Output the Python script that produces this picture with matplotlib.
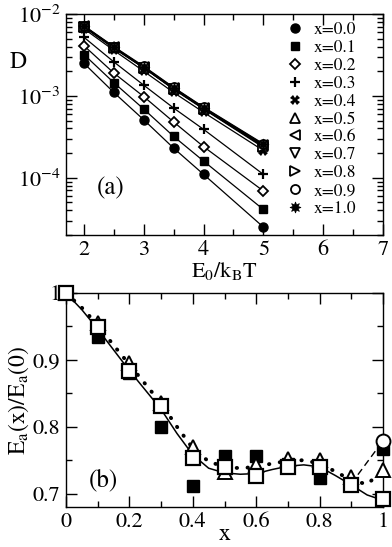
import numpy as np
import matplotlib
matplotlib.use("Agg")
import matplotlib.pyplot as plt
from matplotlib.ticker import MultipleLocator, LogLocator, NullFormatter, FixedLocator

plt.rcParams['font.family'] = ['STIXGeneral', 'DejaVu Serif']
plt.rcParams['mathtext.fontset'] = 'stix'

# panel (a): diffusion coefficient vs E0/kBT
energy = [2, 2.5, 3, 3.5, 4, 5]
comp_labels = ["x=0.0", "x=0.1", "x=0.2", "x=0.3", "x=0.4", "x=0.5",
               "x=0.6", "x=0.7", "x=0.8", "x=0.9", "x=1.0"]
D_x00 = [2.5e-3, 1.1e-3, 5.1e-4, 2.3e-4, 1.1e-4, 2.5e-5]
D_x01 = [3.2e-3, 1.45e-3, 6.9e-4, 3.2e-4, 1.6e-4, 4.1e-5]
D_x02 = [4.1e-3, 1.9e-3, 9.8e-4, 4.8e-4, 2.4e-4, 6.9e-5]
D_x03 = [5.2e-3, 2.6e-3, 1.35e-3, 7.1e-4, 3.9e-4, 1.1e-4]
D_x04 = [6.6e-3, 3.6e-3, 2.0e-3, 1.1e-3, 6.3e-4, 2.15e-4]
D_x05 = [7.0e-3, 3.9e-3, 2.2e-3, 1.22e-3, 7.0e-4, 2.45e-4]
D_x06 = [7.1e-3, 3.9e-3, 2.25e-3, 1.24e-3, 7.1e-4, 2.5e-4]
D_x07 = [6.9e-3, 3.8e-3, 2.2e-3, 1.2e-3, 6.9e-4, 2.35e-4]
D_x08 = [7.0e-3, 3.85e-3, 2.2e-3, 1.22e-3, 7.0e-4, 2.4e-4]
D_x09 = [7.2e-3, 4.0e-3, 2.3e-3, 1.27e-3, 7.3e-4, 2.6e-4]
D_x10 = [7.1e-3, 3.95e-3, 2.25e-3, 1.25e-3, 7.2e-4, 2.55e-4]
D_all = [D_x00, D_x01, D_x02, D_x03, D_x04, D_x05, D_x06, D_x07, D_x08, D_x09, D_x10]

# panel (b): activation energy ratio vs composition
xb = [0.0, 0.1, 0.2, 0.3, 0.4, 0.5, 0.6, 0.7, 0.8, 0.9, 1.0]
Ea_filled_sq = [1.0, 0.934, 0.88, 0.80, 0.711, 0.756, 0.756, 0.745, 0.723, 0.715, 0.767]
Ea_triangle = [1.0, 0.955, 0.895, 0.835, 0.769, 0.733, 0.743, 0.752, 0.751, 0.725, 0.736]
Ea_open_sq = [1.0, 0.949, 0.884, 0.831, 0.754, 0.740, 0.727, 0.740, 0.740, 0.713, 0.692]
Ea_circle = [0.779]
x_circle = [1.0]

# fitted curves
fit_x = [0, 0.05, 0.1, 0.15, 0.2, 0.25, 0.3, 0.35, 0.4, 0.45, 0.5, 0.55,
         0.6, 0.65, 0.7, 0.75, 0.8, 0.85, 0.9, 0.95, 1.0]
fit_solid = [1.0, 0.975, 0.946, 0.915, 0.884, 0.855, 0.826, 0.79, 0.758, 0.738,
             0.731, 0.729, 0.730, 0.736, 0.741, 0.743, 0.740, 0.727, 0.713, 0.698, 0.69]
fit_dotted = [1.0, 0.978, 0.952, 0.922, 0.893, 0.864, 0.835, 0.80, 0.768, 0.748,
              0.740, 0.738, 0.740, 0.745, 0.749, 0.750, 0.745, 0.733, 0.72, 0.714, 0.735]
dash_x = [0.9, 1.0]
fit_dashed = [0.715, 0.779]

fig = plt.figure(figsize=(3.92, 5.47), dpi=100)
ax1 = fig.add_axes([66/392, 1-235/547, (383-66)/392, (235-14)/547])
ax2 = fig.add_axes([66/392, 1-507/547, (383-66)/392, (507-293)/547])

styles = [
    dict(marker='o', mfc='k', ms=6.5),
    dict(marker='s', mfc='k', ms=6),
    dict(marker='D', mfc='w', ms=5, mew=1.3),
    dict(marker='+', mfc='k', ms=7.5, mew=1.6),
    dict(marker='X', mfc='k', ms=6.5, mew=0),
    dict(marker='^', mfc='w', ms=6.5, mew=1.3),
    dict(marker='<', mfc='w', ms=6.5, mew=1.3),
    dict(marker='v', mfc='w', ms=6.5, mew=1.3),
    dict(marker='>', mfc='w', ms=6.5, mew=1.3),
    dict(marker='o', mfc='w', ms=6.5, mew=1.3),
    dict(marker=(8, 1, 0), mfc='k', ms=8, mew=0.5),
]

for D, lab, st in zip(D_all, comp_labels, styles):
    ax1.plot(energy, D, color='k', lw=0.9, zorder=2)
    ax1.plot(energy, D, ls='none', mec='k', label=lab, zorder=3, **st)

ax1.set_yscale('log')
ax1.set_xlim(1.7, 7)
ax1.set_ylim(2e-5, 1e-2)
ax1.xaxis.set_major_locator(MultipleLocator(1))
ax1.xaxis.set_minor_locator(MultipleLocator(0.5))
ax1.yaxis.set_major_locator(LogLocator(base=10, numticks=10))
ax1.yaxis.set_minor_locator(LogLocator(base=10, subs=np.arange(2, 10), numticks=10))
ax1.yaxis.set_minor_formatter(NullFormatter())
ax1.set_xlabel(r'E$_0$/k$_\mathrm{B}$T', fontsize=16, labelpad=0)
fig.text(0.047, 1-62/547, 'D', fontsize=17, ha='center', va='center')
ax1.text(0.14, 0.21, '(a)', transform=ax1.transAxes, fontsize=18,
         ha='center', va='center')

leg = ax1.legend(loc='upper left', bbox_to_anchor=((286-66)/317, 1-(22-14)/221),
                 frameon=False, fontsize=12.5, handlelength=1.0, handletextpad=0.6,
                 labelspacing=0.1, borderpad=0, borderaxespad=0)

# panel (b)
ax2.plot(fit_x, fit_solid, color='k', lw=1.1, zorder=2)
ax2.plot(fit_x, fit_dotted, color='k', lw=2.8, ls=(0, (0.1, 2.7)),
         dash_capstyle='round', zorder=2)
ax2.plot(dash_x, fit_dashed, color='k', lw=1.0, ls=(0, (5, 3)), zorder=2)
ax2.plot(xb, Ea_filled_sq, ls='none', marker='s', mfc='k', mec='k', ms=8,
         zorder=3, clip_on=False)
ax2.plot(xb, Ea_triangle, ls='none', marker='^', mfc='w', mec='k', ms=9.5,
         mew=1.4, zorder=4, clip_on=False)
ax2.plot(x_circle, Ea_circle, ls='none', marker='o', mfc='w', mec='k', ms=10,
         mew=1.4, zorder=4, clip_on=False)
ax2.plot(xb, Ea_open_sq, ls='none', marker='s', mfc='w', mec='k', ms=9.5,
         mew=1.6, zorder=5, clip_on=False)

ax2.set_xlim(0, 1)
ax2.set_ylim(0.68, 1.0)
ax2.xaxis.set_major_locator(FixedLocator([0, 0.2, 0.4, 0.6, 0.8, 1.0]))
ax2.xaxis.set_minor_locator(MultipleLocator(0.1))
ax2.yaxis.set_major_locator(FixedLocator([0.7, 0.8, 0.9, 1.0]))
ax2.yaxis.set_minor_locator(MultipleLocator(0.05))
ax2.set_xticklabels(['0', '0.2', '0.4', '0.6', '0.8', '1'])
ax2.set_yticklabels(['0.7', '0.8', '0.9', '1'])
ax2.set_xlabel('x', fontsize=17, labelpad=-6)
ax2.set_ylabel(r'E$_\mathrm{a}$(x)/E$_\mathrm{a}$(0)', fontsize=17, labelpad=1)
ax2.text(0.117, 0.126, '(b)', transform=ax2.transAxes, fontsize=18,
         ha='center', va='center')

for ax in (ax1, ax2):
    ax.tick_params(which='both', direction='in', top=True, right=True,
                   labelsize=16, width=1.0)
    ax.tick_params(which='major', length=8, pad=4)
    ax.tick_params(which='minor', length=4)
    for s in ax.spines.values():
        s.set_linewidth(1.0)

fig.savefig('out.png', dpi=100)
